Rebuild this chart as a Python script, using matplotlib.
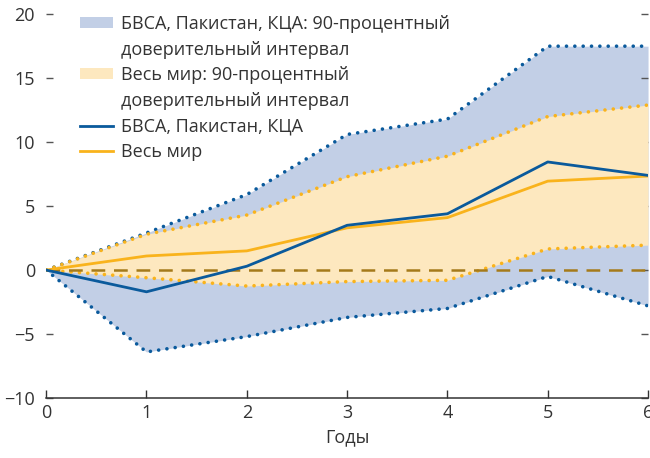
import matplotlib.pyplot as plt
from matplotlib.patches import Patch
from matplotlib.lines import Line2D

plt.rcParams["font.family"] = ["Open Sans", "DejaVu Sans"]

years = [0, 1, 2, 3, 4, 5, 6]

# MENAP (БВСА, Пакистан, КЦА) estimate and 90% band
menap = [0, -1.7, 0.3, 3.5, 4.4, 8.45, 7.4]
menap_hi = [0, 2.9, 5.9, 10.6, 11.8, 17.5, 17.5]
menap_lo = [0, -6.4, -5.2, -3.7, -3.0, -0.5, -2.8]

# whole world estimate and 90% band
world = [0, 1.1, 1.5, 3.3, 4.1, 6.95, 7.35]
world_hi = [0, 2.8, 4.3, 7.3, 8.9, 12.0, 12.9]
world_lo = [0, -0.6, -1.25, -0.9, -0.8, 1.65, 1.95]

y_ticks = [-10, -5, 0, 5, 10, 15, 20]
y_labels = ["\u221210", "\u22125", "0", "5", "10", "15", "20"]

BLUE = "#0a5a9c"
BLUE_FILL = "#c2cfe6"
ORANGE = "#f9b31c"
ORANGE_FILL = "#fde8bf"
ZERO = "#a57a1a"
TEXT = "#333333"
DOTS = (0, (0.01, 2.3))

fig = plt.figure(figsize=(6.5, 4.58), dpi=100)
ax = fig.add_axes([0.071, 0.131, 0.926, 0.838])

ax.fill_between(years, menap_lo, menap_hi, color=BLUE_FILL, lw=0, zorder=1)
ax.fill_between(years, world_lo, world_hi, color=ORANGE_FILL, lw=0, zorder=2)

for band in (menap_hi, menap_lo):
    ax.plot(years, band, color=BLUE, lw=2.6, ls=DOTS, dash_capstyle="round", zorder=3)
for band in (world_hi, world_lo):
    ax.plot(years, band, color=ORANGE, lw=2.6, ls=DOTS, dash_capstyle="round", zorder=3)

ax.axhline(0, color=ZERO, lw=1.8, ls=(0, (5.5, 3.5)), zorder=4)

ax.plot(years, world, color=ORANGE, lw=2, zorder=5)
ax.plot(years, menap, color=BLUE, lw=2, zorder=6)

ax.set_xlim(0, 6)
ax.set_ylim(-10, 20)
ax.set_xticks(years)
ax.set_yticks(y_ticks)
ax.set_yticklabels(y_labels)

for side in ["top", "left", "right"]:
    ax.spines[side].set_visible(False)
ax.spines["bottom"].set_color(TEXT)
ax.spines["bottom"].set_linewidth(1.1)

ax.tick_params(axis="x", direction="in", length=6, width=1, colors=TEXT,
               labelsize=13, pad=4)
ax.tick_params(axis="y", direction="in", length=5, width=1, colors="#555555",
               labelcolor=TEXT, labelsize=13, pad=8, right=True)
ax.set_xlabel("Годы", fontsize=13, color=TEXT, labelpad=5)

# two-line labels are split into rows so the swatch sits on the first line
blank = Line2D([], [], alpha=0)
handles = [
    Patch(facecolor=BLUE_FILL, edgecolor="none"), blank,
    Patch(facecolor=ORANGE_FILL, edgecolor="none"), blank,
    Line2D([], [], color=BLUE, lw=2),
    Line2D([], [], color=ORANGE, lw=2),
]
labels = [
    "БВСА, Пакистан, КЦА: 90-процентный",
    "доверительный интервал",
    "Весь мир: 90-процентный",
    "доверительный интервал",
    "БВСА, Пакистан, КЦА",
    "Весь мир",
]
leg = ax.legend(handles, labels, loc="upper left", bbox_to_anchor=(0.03, 1.04),
                frameon=False, fontsize=13, handlelength=1.8, handleheight=0.55,
                handletextpad=0.45, labelspacing=0.42, labelcolor=TEXT)

fig.savefig("out.png", dpi=100)
